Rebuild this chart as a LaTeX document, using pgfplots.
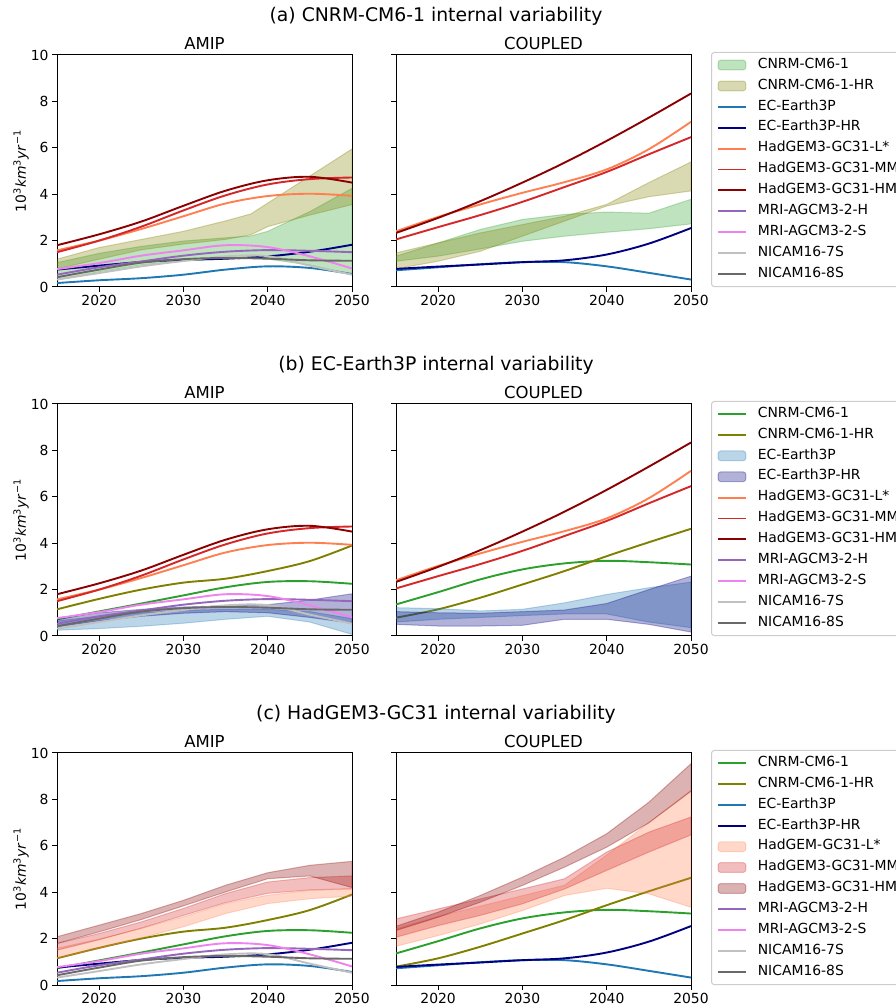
\documentclass[border=0pt]{standalone}
\usepackage{fontspec}
\setmainfont{DejaVu Sans}
\usepackage{pgfplots}
\usepackage{pgfplotstable}
\pgfplotsset{compat=1.18}

\definecolor{cnrm}{HTML}{2CA02C}
\definecolor{cnrmhr}{HTML}{808000}
\definecolor{ec}{HTML}{1F77B4}
\definecolor{echr}{HTML}{000080}
\definecolor{hadl}{HTML}{FF7F50}
\definecolor{hadmm}{HTML}{D62728}
\definecolor{hadhm}{HTML}{8B0000}
\definecolor{mrih}{HTML}{9467BD}
\definecolor{mris}{HTML}{EE82EE}
\definecolor{nic7}{HTML}{C0C0C0}
\definecolor{nic8}{HTML}{696969}

% single-member / mean lines
\pgfplotstableread{
year cnrm cnrmhr ec echr hadl hadmm hadhm mrih mris nic7 nic8
2015 0.72 1.15 0.17 0.75 1.58 1.50 1.80 0.53 0.77 0.32 0.42
2020 1.06 1.60 0.29 0.92 2.00 2.00 2.27 0.85 1.03 0.60 0.75
2025 1.40 2.00 0.38 1.08 2.50 2.60 2.82 1.10 1.35 0.89 1.05
2030 1.75 2.30 0.53 1.17 3.05 3.30 3.50 1.35 1.58 1.12 1.20
2035 2.10 2.47 0.75 1.22 3.60 3.95 4.15 1.52 1.80 1.32 1.25
2040 2.33 2.80 0.89 1.32 3.92 4.42 4.60 1.59 1.72 1.33 1.22
2045 2.36 3.23 0.82 1.52 4.02 4.65 4.75 1.56 1.32 0.92 1.15
2050 2.25 3.90 0.56 1.82 3.93 4.72 4.50 1.50 0.80 0.53 1.13
}\amip
\pgfplotstableread{
year cnrm cnrmhr ec echr hadl hadmm hadhm
2015 1.36 0.79 0.72 0.78 2.40 2.05 2.33
2020 1.89 1.15 0.85 0.88 3.02 2.58 2.98
2025 2.44 1.65 0.98 0.97 3.56 3.10 3.70
2030 2.87 2.22 1.07 1.07 4.06 3.67 4.50
2035 3.13 2.80 1.07 1.15 4.52 4.31 5.36
2040 3.24 3.44 0.89 1.40 5.07 4.96 6.30
2045 3.18 4.04 0.61 1.87 5.94 5.72 7.30
2050 3.08 4.62 0.32 2.54 7.12 6.46 8.34
}\cpl

\newcommand{\fs}[1]{\fontsize{#1}{1.2\dimexpr#1pt\relax}\selectfont}

\pgfplotsset{
  panel/.style={
    scale only axis, width=295pt, height=232pt,
    xmin=2015, xmax=2050, ymin=0, ymax=10,
    xtick={2020,2030,2040,2050}, ytick={0,2,4,6,8,10},
    tick pos=left, tick align=outside, major tick length=4.9pt,
    every tick/.style={black, line width=1pt},
    axis line style={black, line width=1pt},
    tick label style={font=\fs{13.9}},
    /pgf/number format/assume math mode=true,
    /pgf/number format/1000 sep={},
    every axis title/.style={font=\fs{16.5}, at={(0.5,1)}, anchor=base, yshift=5pt},
    every axis y label/.style={at={(axis description cs:-0.122,0.5)}, rotate=90, anchor=center, font=\fs{13.9}},
    ylabel={10\textsuperscript{3}\textit{km}\textsuperscript{3}\textit{yr}\textsuperscript{−1}},
  },
  cplpanel/.style={panel, yticklabels={}, ylabel={},
    legend cell align=left,
    legend style={at={(1,1)}, anchor=north west, xshift=20pt, yshift=3pt,
      draw=black!20, fill=white, line width=1pt, rounded corners=2.8pt,
      font=\fs{13.9}, inner xsep=5.6pt, inner ysep=5.6pt,
      row sep=7pt, column sep=11pt,
      nodes={inner sep=0pt, text height=10.2pt, text depth=3.7pt}},
  },
  lineleg/.style={legend image code/.code={\draw[line width=1.9pt, ##1] (0pt,0pt) -- (27.8pt,0pt);}},
  arealeg/.style={legend image code/.code={\draw[line width=1pt, ##1] (0pt,-4.9pt) rectangle (27.8pt,4.9pt);}},
}

% ensemble range: upper edge forward, lower edge backward
\newcommand{\band}[2]{\addplot[fill=#1, fill opacity=0.3, draw=#1, draw opacity=0.3, line width=1pt, forget plot] coordinates {#2};}
\newcommand{\curve}[3]{\addplot[draw=#1, line width=1.9pt, smooth, tension=0.55, forget plot] table[x=year, y=#3] {#2};}
\newcommand{\li}[2]{\addlegendimage{lineleg, draw=#1}\addlegendentry{#2}}
\newcommand{\ar}[2]{\addlegendimage{arealeg, fill=#1, fill opacity=0.3, draw=#1, draw opacity=0.3}\addlegendentry{#2}}

\begin{document}
\begin{tikzpicture}
\node[anchor=base, font=\fs{18.8}] at (436pt,982pt) {(a) CNRM-CM6-1 internal variability};
\node[anchor=base, font=\fs{18.8}] at (436pt,633.5pt) {(b) EC-Earth3P internal variability};
\node[anchor=base, font=\fs{18.8}] at (436pt,284.5pt) {(c) HadGEM3-GC31 internal variability};

% ---------- (a) AMIP
\begin{axis}[panel, at={(57pt,717pt)}, anchor=south west, title={AMIP}]
\band{cnrm}{(2015,1.05)(2020,1.45)(2025,1.75)(2030,1.98)(2035,2.12)(2038,2.20)(2040,2.40)(2045,3.25)(2050,4.25)
 (2050,0.55)(2045,0.95)(2040,1.20)(2038,1.25)(2035,1.20)(2030,1.12)(2025,0.95)(2020,0.65)(2015,0.30)}
\band{cnrmhr}{(2015,1.20)(2020,1.70)(2025,2.05)(2030,2.40)(2035,2.85)(2038,3.15)(2050,5.95)
 (2050,3.55)(2045,3.10)(2040,2.60)(2038,2.25)(2035,2.05)(2030,1.85)(2025,1.60)(2020,1.20)(2015,0.78)}
\curve{ec}{\amip}{ec}
\curve{echr}{\amip}{echr}
\curve{hadl}{\amip}{hadl}
\curve{hadmm}{\amip}{hadmm}
\curve{hadhm}{\amip}{hadhm}
\curve{mrih}{\amip}{mrih}
\curve{mris}{\amip}{mris}
\curve{nic7}{\amip}{nic7}
\curve{nic8}{\amip}{nic8}
\end{axis}
% ---------- (a) COUPLED
\begin{axis}[cplpanel, at={(396pt,717pt)}, anchor=south west, title={COUPLED}]
\band{cnrm}{(2015,1.33)(2020,1.90)(2025,2.48)(2030,2.91)(2035,3.13)(2040,3.23)(2045,3.18)(2050,3.78)
 (2050,2.72)(2045,2.51)(2040,2.36)(2035,2.19)(2030,1.97)(2025,1.64)(2020,1.33)(2015,1.11)}
\band{cnrmhr}{(2015,1.47)(2020,1.90)(2025,2.33)(2030,2.69)(2035,3.05)(2040,3.56)(2045,4.50)(2050,5.39)
 (2050,4.14)(2045,3.89)(2040,3.49)(2035,2.84)(2030,2.19)(2025,1.54)(2020,1.11)(2015,0.78)}
\curve{ec}{\cpl}{ec}
\curve{echr}{\cpl}{echr}
\curve{hadl}{\cpl}{hadl}
\curve{hadmm}{\cpl}{hadmm}
\curve{hadhm}{\cpl}{hadhm}
\ar{cnrm}{CNRM-CM6-1}
\ar{cnrmhr}{CNRM-CM6-1-HR}
\li{ec}{EC-Earth3P}
\li{echr}{EC-Earth3P-HR}
\li{hadl}{HadGEM3-GC31-L*}
\li{hadmm}{HadGEM3-GC31-MM}
\li{hadhm}{HadGEM3-GC31-HM}
\li{mrih}{MRI-AGCM3-2-H}
\li{mris}{MRI-AGCM3-2-S}
\li{nic7}{NICAM16-7S}
\li{nic8}{NICAM16-8S}
\end{axis}

% ---------- (b) AMIP
\begin{axis}[panel, at={(57pt,368pt)}, anchor=south west, title={AMIP}]
\curve{cnrm}{\amip}{cnrm}
\curve{cnrmhr}{\amip}{cnrmhr}
\band{ec}{(2015,0.65)(2020,0.85)(2025,1.00)(2030,1.10)(2035,1.15)(2040,1.15)(2045,1.05)(2050,0.75)
 (2050,0.07)(2045,0.60)(2040,0.85)(2035,0.72)(2030,0.55)(2025,0.42)(2020,0.32)(2015,0.25)}
\band{echr}{(2015,0.78)(2020,1.00)(2025,1.15)(2030,1.25)(2035,1.30)(2040,1.35)(2045,1.55)(2050,1.82)
 (2050,0.55)(2045,0.80)(2040,1.00)(2035,1.05)(2030,0.98)(2025,0.85)(2020,0.65)(2015,0.40)}
\curve{hadl}{\amip}{hadl}
\curve{hadmm}{\amip}{hadmm}
\curve{hadhm}{\amip}{hadhm}
\curve{mrih}{\amip}{mrih}
\curve{mris}{\amip}{mris}
\curve{nic7}{\amip}{nic7}
\curve{nic8}{\amip}{nic8}
\end{axis}
% ---------- (b) COUPLED
\begin{axis}[cplpanel, at={(396pt,368pt)}, anchor=south west, title={COUPLED}]
\curve{cnrm}{\cpl}{cnrm}
\curve{cnrmhr}{\cpl}{cnrmhr}
\band{ec}{(2015,1.22)(2020,1.18)(2025,1.08)(2030,1.15)(2035,1.43)(2040,1.79)(2045,2.08)(2050,2.32)
 (2050,0.36)(2045,0.60)(2040,0.95)(2035,0.95)(2030,0.88)(2025,0.80)(2020,0.72)(2015,0.60)}
\band{echr}{(2015,1.05)(2020,1.00)(2025,0.98)(2030,1.05)(2035,1.12)(2040,1.40)(2045,2.00)(2050,2.58)
 (2050,0.17)(2045,0.50)(2040,0.72)(2035,0.72)(2030,0.46)(2025,0.43)(2020,0.43)(2015,0.50)}
\curve{hadl}{\cpl}{hadl}
\curve{hadmm}{\cpl}{hadmm}
\curve{hadhm}{\cpl}{hadhm}
\li{cnrm}{CNRM-CM6-1}
\li{cnrmhr}{CNRM-CM6-1-HR}
\ar{ec}{EC-Earth3P}
\ar{echr}{EC-Earth3P-HR}
\li{hadl}{HadGEM3-GC31-L*}
\li{hadmm}{HadGEM3-GC31-MM}
\li{hadhm}{HadGEM3-GC31-HM}
\li{mrih}{MRI-AGCM3-2-H}
\li{mris}{MRI-AGCM3-2-S}
\li{nic7}{NICAM16-7S}
\li{nic8}{NICAM16-8S}
\end{axis}

% ---------- (c) AMIP
\begin{axis}[panel, at={(57pt,19pt)}, anchor=south west, title={AMIP}]
\curve{cnrm}{\amip}{cnrm}
\curve{cnrmhr}{\amip}{cnrmhr}
\curve{ec}{\amip}{ec}
\curve{echr}{\amip}{echr}
\band{hadl}{(2015,1.58)(2020,1.98)(2025,2.44)(2030,2.94)(2035,3.51)(2040,3.87)(2045,4.08)(2050,4.13)
 (2050,3.83)(2045,3.72)(2040,3.51)(2035,3.08)(2030,2.51)(2025,2.03)(2020,1.58)(2015,1.15)}
\band{hadmm}{(2015,1.79)(2020,2.22)(2025,2.72)(2030,3.30)(2035,3.94)(2040,4.44)(2045,4.63)(2050,4.70)
 (2050,4.15)(2045,4.10)(2040,3.95)(2035,3.55)(2030,3.00)(2025,2.45)(2020,1.95)(2015,1.50)}
\band{hadhm}{(2015,2.08)(2020,2.58)(2025,3.08)(2030,3.65)(2035,4.30)(2040,4.84)(2045,5.16)(2050,5.33)
 (2050,4.20)(2045,4.70)(2040,4.58)(2035,4.01)(2030,3.41)(2025,2.82)(2020,2.29)(2015,1.79)}
\curve{mrih}{\amip}{mrih}
\curve{mris}{\amip}{mris}
\curve{nic7}{\amip}{nic7}
\curve{nic8}{\amip}{nic8}
\end{axis}
% ---------- (c) COUPLED
\begin{axis}[cplpanel, at={(396pt,19pt)}, anchor=south west, title={COUPLED}]
\curve{cnrm}{\cpl}{cnrm}
\curve{cnrmhr}{\cpl}{cnrmhr}
\curve{ec}{\cpl}{ec}
\curve{echr}{\cpl}{echr}
\band{hadl}{(2015,2.42)(2020,2.95)(2025,3.40)(2030,3.85)(2035,4.30)(2040,5.60)(2045,7.00)(2050,8.39)
 (2050,3.35)(2045,3.93)(2040,4.17)(2035,3.86)(2030,3.21)(2025,2.63)(2020,2.13)(2015,1.67)}
\band{hadmm}{(2015,2.85)(2020,3.28)(2025,3.71)(2030,4.14)(2035,4.58)(2040,5.73)(2045,6.59)(2050,7.24)
 (2050,6.47)(2045,5.73)(2040,4.94)(2035,4.14)(2030,3.50)(2025,3.00)(2020,2.56)(2015,2.06)}
\band{hadhm}{(2015,2.53)(2020,3.14)(2025,3.86)(2030,4.65)(2035,5.51)(2040,6.52)(2045,7.88)(2050,9.54)
 (2050,8.35)(2045,6.99)(2040,5.94)(2035,5.08)(2030,4.29)(2025,3.57)(2020,2.92)(2015,2.35)}
\li{cnrm}{CNRM-CM6-1}
\li{cnrmhr}{CNRM-CM6-1-HR}
\li{ec}{EC-Earth3P}
\li{echr}{EC-Earth3P-HR}
\ar{hadl}{HadGEM-GC31-L*}
\ar{hadmm}{HadGEM3-GC31-MM}
\ar{hadhm}{HadGEM3-GC31-HM}
\li{mrih}{MRI-AGCM3-2-H}
\li{mris}{MRI-AGCM3-2-S}
\li{nic7}{NICAM16-7S}
\li{nic8}{NICAM16-8S}
\end{axis}

\pgfresetboundingbox
\path[use as bounding box] (0pt,0pt) rectangle (895pt,1004pt);
\end{tikzpicture}
\end{document}
